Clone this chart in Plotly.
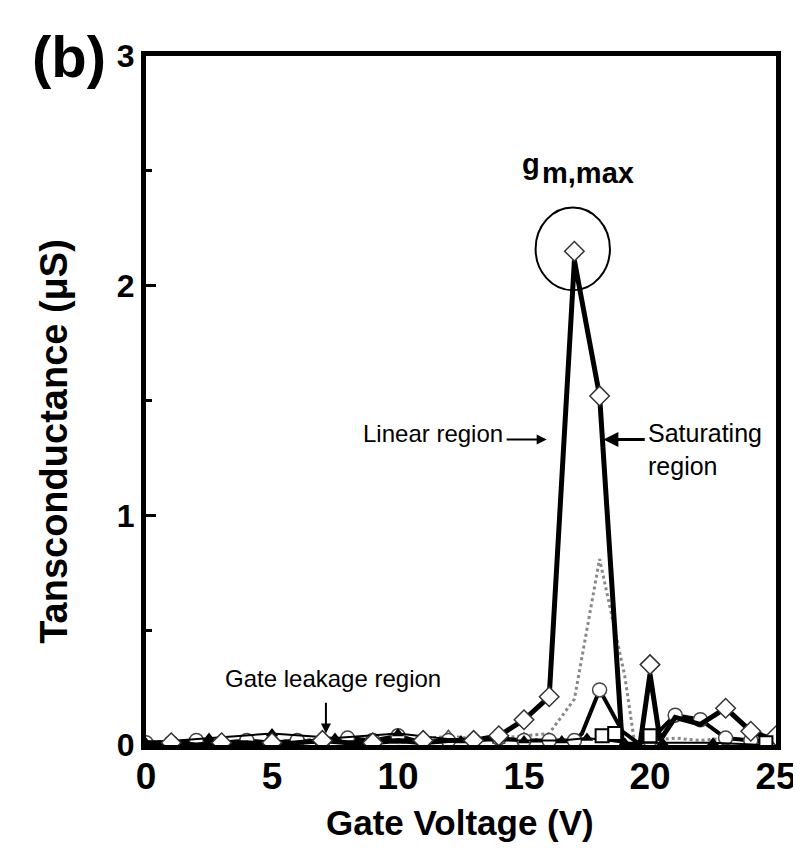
import plotly.graph_objects as go

# ---------------- data ----------------
# thick black curve (largest drain bias) and its open-diamond points
gm_line_x = [0, 1, 2, 3, 4, 5, 6, 7, 8, 9, 10, 11, 12, 13, 14, 15, 16, 17, 18, 18.9, 19.6, 20, 20.4, 21, 22, 23, 24, 25]
gm_line_y = [0.01, 0.01, 0.0, 0.01, 0.01, 0.0, 0.01, 0.02, 0.01, 0.01, 0.02, 0.01, 0.02, 0.02, 0.04, 0.11, 0.21, 2.11, 1.52, 0.0, 0.0, 0.31, 0.02, 0.12, 0.09, 0.16, 0.06, 0.02]
diam_x = [1, 3, 5, 7, 9, 11, 13, 14, 15, 16, 17, 18, 20, 23, 24, 25]
diam_y = [0.01, 0.01, 0.01, 0.02, 0.01, 0.02, 0.02, 0.04, 0.11, 0.21, 2.15, 1.52, 0.35, 0.16, 0.06, 0.04]

# grey dotted curve
grey_x = [0, 2, 4, 6, 8, 10, 12, 14, 15, 16, 17, 18, 19, 19.4, 20, 21, 22, 23, 24, 25]
grey_y = [0.01, 0.02, 0.01, 0.02, 0.03, 0.01, 0.02, 0.03, 0.04, 0.05, 0.2, 0.81, 0.3, 0.0, 0.02, 0.03, 0.02, 0.03, 0.02, 0.01]

# open circles with black line
circ_x = [0, 1, 2, 3, 4, 5, 6, 7, 8, 9, 10, 11, 12, 13, 14, 15, 16, 17, 17.3, 18, 18.9, 19.5, 20, 21, 22, 23, 24, 25]
circ_y = [0.01, 0.01, 0.02, 0.01, 0.02, 0.01, 0.02, 0.01, 0.03, 0.02, 0.04, 0.01, 0.02, 0.02, 0.03, 0.02, 0.02, 0.02, 0.05, 0.24, 0.06, 0.01, 0.02, 0.13, 0.11, 0.03, 0.02, 0.01]

# open triangles
otri_x = [0, 1, 2, 3, 4, 5, 6, 7, 8, 9, 10, 11, 12, 13, 14, 15, 16]
otri_y = [0.01, 0.02, 0.01, 0.02, 0.01, 0.02, 0.02, 0.03, 0.02, 0.02, 0.02, 0.03, 0.04, 0.03, 0.02, 0.03, 0.02]

# filled black triangles
ftri_x = [0, 2.5, 5, 7.5, 10, 12.5, 15, 16.5, 17.5, 19, 20.5, 22.5, 24.5]
ftri_y = [0.01, 0.03, 0.05, 0.03, 0.05, 0.02, 0.02, 0.02, 0.03, 0.01, 0.01, 0.01, 0.0]

# open squares
sq_x = [18.1, 18.6, 20.0, 24.6]
sq_y = [0.04, 0.05, 0.04, 0.01]

x_ticks = [0, 5, 10, 15, 20, 25]
y_ticks = [0, 1, 2, 3]
y_minor = [0.5, 1.5, 2.5]

# ---------------- figure ----------------
fig = go.Figure()

fig.add_trace(go.Scatter(x=otri_x, y=otri_y, mode="lines+markers",
                         line=dict(color="#777", width=2, dash="dot"),
                         marker=dict(symbol="triangle-up-open", size=11, color="#555", line=dict(width=1.5))))
fig.add_trace(go.Scatter(x=grey_x, y=grey_y, mode="lines",
                         line=dict(color="#888", width=3, dash="dot")))
fig.add_trace(go.Scatter(x=circ_x, y=circ_y, mode="lines",
                         line=dict(color="black", width=4)))
fig.add_trace(go.Scatter(x=[v for v, w in zip(circ_x, circ_y) if float(v).is_integer()],
                         y=[w for v, w in zip(circ_x, circ_y) if float(v).is_integer()],
                         mode="markers",
                         marker=dict(symbol="circle", size=14, color="white",
                                     line=dict(color="#444", width=1.5))))
fig.add_trace(go.Scatter(x=ftri_x, y=ftri_y, mode="lines+markers",
                         line=dict(color="black", width=2),
                         marker=dict(symbol="triangle-up", size=11, color="black")))
fig.add_trace(go.Scatter(x=gm_line_x, y=gm_line_y, mode="lines",
                         line=dict(color="black", width=5)))
fig.add_trace(go.Scatter(x=diam_x, y=diam_y, mode="markers",
                         marker=dict(symbol="diamond", size=15, color="white",
                                     line=dict(color="#333", width=1.5))))
fig.add_trace(go.Scatter(x=sq_x, y=sq_y, mode="markers",
                         marker=dict(symbol="square", size=13, color="white",
                                     line=dict(color="black", width=2))))

# circle around g_m,max
fig.add_shape(type="circle", xref="x", yref="y", x0=15.46, x1=18.41, y0=1.98, y1=2.34,
              line=dict(color="black", width=2))

font_txt = "Liberation Sans, Arial"

ann = []
ann.append(dict(text="<b>(b)</b>", xref="paper", yref="paper", x=-0.122, y=1.0,
                showarrow=False, font=dict(size=58, family=font_txt, color="black"),
                xanchor="center", yanchor="middle"))
ann.append(dict(text="<b>g</b>", xref="x", yref="y", x=15.7, y=2.53,
                showarrow=False, font=dict(size=29, family=font_txt, color="black"),
                xanchor="right", yanchor="middle"))
ann.append(dict(text="<b>m,max</b>", xref="x", yref="y", x=15.62, y=2.49,
                showarrow=False, font=dict(size=29, family=font_txt, color="black"),
                xanchor="left", yanchor="middle"))
ann.append(dict(text="Linear region", xref="x", yref="y", x=14.25, y=1.355,
                showarrow=False, xanchor="right", yanchor="middle",
                font=dict(size=24, family=font_txt, color="black")))
ann.append(dict(text="", xref="x", yref="y", x=15.9, y=1.33,
                ax=14.25, ay=1.33, axref="x", ayref="y", showarrow=True,
                arrowhead=2, arrowsize=1, arrowwidth=2, arrowcolor="black"))
ann.append(dict(text="", xref="x", yref="y", x=18.15, y=1.33,
                ax=19.85, ay=1.33, axref="x", ayref="y", showarrow=True,
                arrowhead=2, arrowsize=1, arrowwidth=3, arrowcolor="black"))
ann.append(dict(text="Saturating", xref="x", yref="y", x=19.85, y=1.36,
                showarrow=False, xanchor="left", yanchor="middle",
                font=dict(size=25, family=font_txt, color="black")))
ann.append(dict(text="region", xref="x", yref="y", x=21.3, y=1.215,
                showarrow=False, xanchor="center", yanchor="middle",
                font=dict(size=25, family=font_txt, color="black")))
ann.append(dict(text="Gate leakage region", xref="x", yref="y", x=7.42, y=0.29,
                showarrow=False, xanchor="center", yanchor="middle",
                font=dict(size=24, family=font_txt, color="black")))
ann.append(dict(text="", xref="x", yref="y", x=7.14, y=0.05,
                ax=7.14, ay=0.19, axref="x", ayref="y", showarrow=True,
                arrowhead=2, arrowsize=1, arrowwidth=2, arrowcolor="black"))
ann.append(dict(text="<b>Tansconductance (\u03bcS)</b>", xref="paper", yref="paper",
                x=-0.146, y=0.44, textangle=-90, showarrow=False,
                xanchor="center", yanchor="middle",
                font=dict(size=38, family=font_txt, color="black")))
ann.append(dict(text="<b>Gate Voltage (V)</b>", xref="paper", yref="paper",
                x=0.498, y=-0.113, showarrow=False, xanchor="center", yanchor="middle",
                font=dict(size=35, family=font_txt, color="black")))

fig.update_layout(
    width=801, height=856,
    margin=dict(l=138, r=26, t=48, b=119),
    paper_bgcolor="white", plot_bgcolor="white",
    showlegend=False,
    annotations=ann,
)
fig.update_xaxes(range=[0, 25], tickmode="array", tickvals=x_ticks,
                 ticktext=[f"<b>{v}</b>" for v in x_ticks],
                 showgrid=False, zeroline=False, showline=True, mirror=True,
                 linecolor="black", linewidth=5, ticks="", ticklabelstandoff=-5,
                 tickfont=dict(size=37, family=font_txt, color="black"))
fig.update_yaxes(range=[0, 3], tickmode="array", tickvals=y_ticks,
                 ticktext=[f"<b>{v}</b>" for v in y_ticks],
                 showgrid=False, zeroline=False, showline=True, mirror=True,
                 linecolor="black", linewidth=5, ticks="inside", ticklen=10, tickwidth=3,
                 tickcolor="black",
                 minor=dict(tickvals=y_minor, ticks="inside", ticklen=6, tickwidth=3, tickcolor="black"),
                 tickfont=dict(size=32, family=font_txt, color="black"))

fig.write_html("out.html")
